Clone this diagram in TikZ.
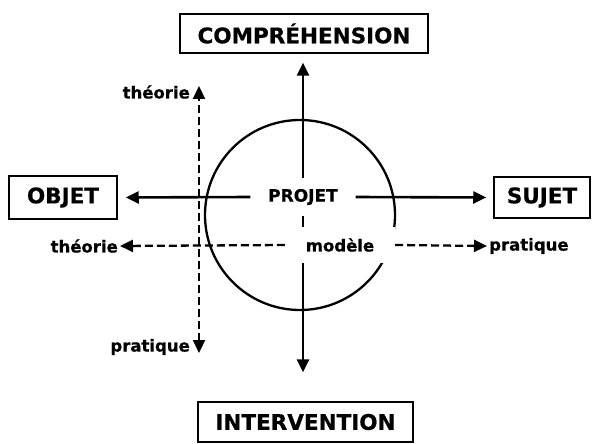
\documentclass[tikz,border=0pt]{standalone}
\usepackage{fontspec}
\setmainfont{DejaVu Sans}[BoldFeatures={FakeBold=0.6}]
\usetikzlibrary{arrows.meta}

\begin{document}
\begin{tikzpicture}[x=1pt,y=-1pt,
    >={Triangle[length=13pt,width=12pt]},
    box/.style={draw, line width=1.5pt, inner sep=0pt, font=\fontsize{21.5}{25}\selectfont\bfseries},
    lbl/.style={inner sep=2pt, font=\fontsize{16.5}{19}\selectfont\bfseries},
    arr/.style={line width=2.6pt, ->},
    darr/.style={arr, line width=2.3pt, dash pattern=on 8pt off 4pt}]
    \useasboundingbox (0,0) rectangle (595,444);
    % les quatre poles
    \node[box, minimum width=248pt, minimum height=39pt] (compr) at (304,33.5) {COMPRÉHENSION};
    \node[box, minimum width=108pt, minimum height=43pt] (objet) at (63,197.5) {OBJET};
    \node[box, minimum width=96pt, minimum height=41pt] (sujet) at (542,197.5) {SUJET};
    \node[box, minimum width=215pt, minimum height=40pt] (interv) at (305.5,422) {INTERVENTION};
    % le cercle et le centre
    \node[circle, draw, line width=2.3pt, minimum size=190pt] (ring) at (300,215) {};
    \node[lbl, fill=white, minimum width=105pt, minimum height=38pt, font=\fontsize{17}{20}\selectfont\bfseries] (projet) at (303,197) {PROJET};
    \node[lbl, fill=white, minimum width=110pt, minimum height=36pt] (modele) at (340,245) {modèle};
    \draw[arr, shorten >=9pt] (projet.north) -- (projet |- compr.south);
    \draw[line width=2.6pt] (projet.south) -- (projet |- modele.north);
    \draw[arr, shorten >=29pt] (projet |- modele.south) -- (projet |- interv.north);
    \draw[arr, shorten >=8pt] (projet.west) -- (objet.east);
    \draw[arr, shorten >=7pt] (projet.east) -- (sujet.west);
    % axe theorie / pratique
    \node[lbl, anchor=east] (thG) at (120,246) {théorie};
    \node[lbl, anchor=west] (prD) at (487,246) {pratique};
    \draw[darr] (modele.west) -- (thG.east);
    \draw[darr] (modele.east) -- (prD.west);
    \coordinate (haut) at (199,86);
    \coordinate (bas) at (199,353);
    \node[lbl, anchor=east] (thH) at (192,92) {théorie};
    \node[lbl, anchor=east] (prB) at (192,347) {pratique};
    \draw[darr, <->] (bas) -- (haut);
\end{tikzpicture}
\end{document}
